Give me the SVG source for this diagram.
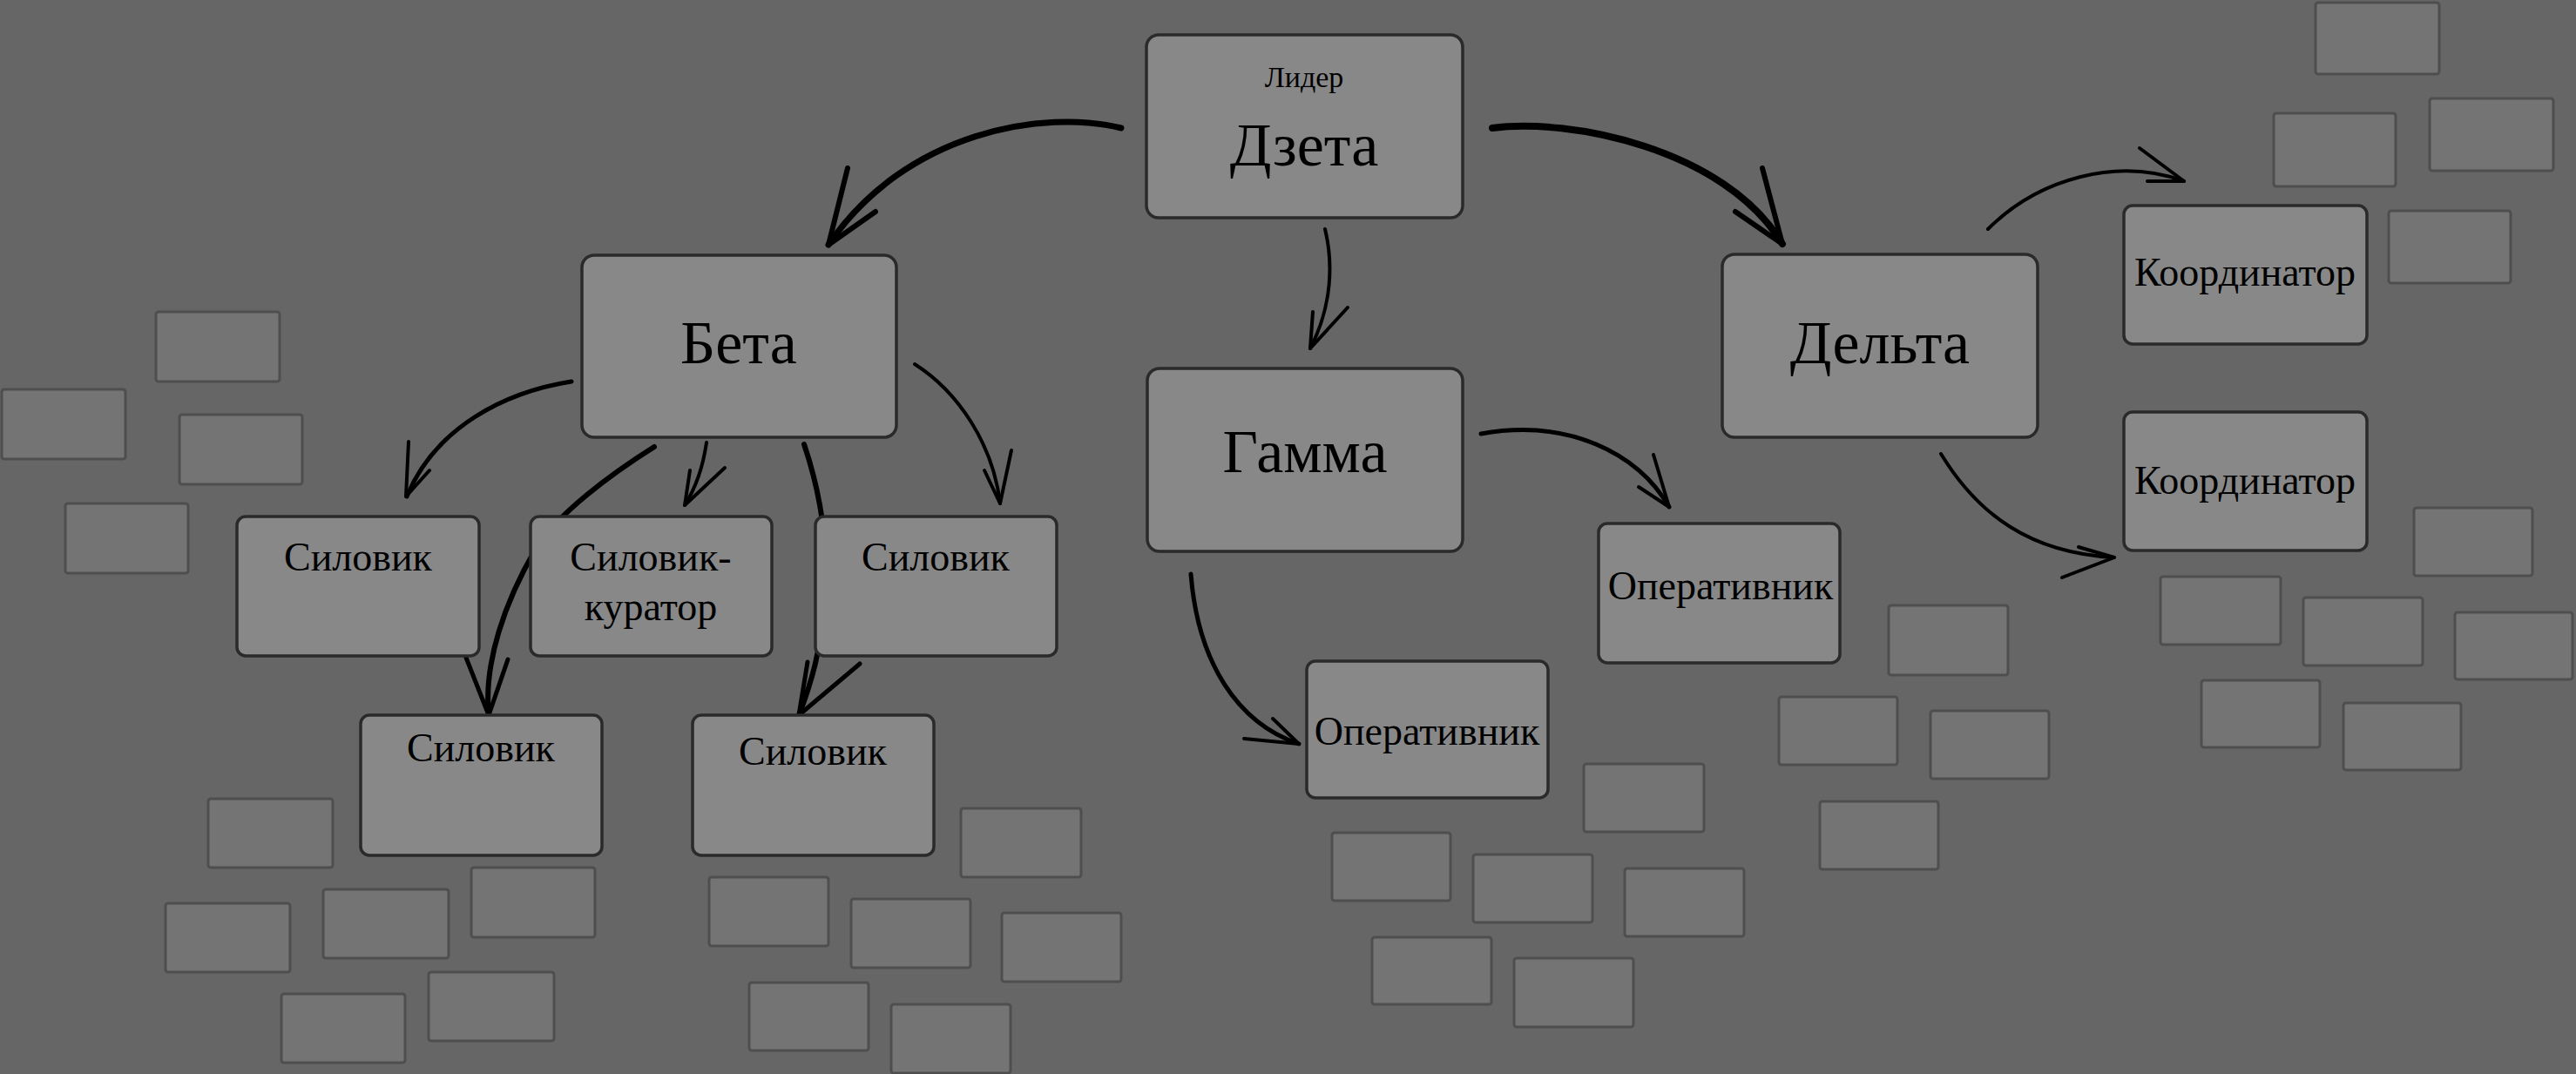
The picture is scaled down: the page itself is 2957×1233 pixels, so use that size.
<svg xmlns="http://www.w3.org/2000/svg" width="2957" height="1233" viewBox="0 0 2957 1233">
<style>
.deco{fill:#747474;stroke:#4e4e4e;stroke-width:3}
.node{fill:#888888;stroke:#2a2a2a;stroke-width:3.5}
.t{font-family:"Liberation Serif","Times New Roman",serif;fill:#000;text-anchor:middle}
.big{font-size:70px}
.mid{font-size:46px}
.sm{font-size:34px}
.c{fill:none;stroke:#000;stroke-linecap:round;stroke-linejoin:round}
</style>
<rect width="2957" height="1233" fill="#666666"/>
<g id="decor">
<rect class="deco" x="2658" y="3" width="142" height="82" rx="3"/>
<rect class="deco" x="2610" y="130" width="140" height="84" rx="3"/>
<rect class="deco" x="2789" y="113" width="142" height="83" rx="3"/>
<rect class="deco" x="2742" y="242" width="140" height="83" rx="3"/>
<rect class="deco" x="2771" y="583" width="136" height="78" rx="3"/>
<rect class="deco" x="2480" y="662" width="138" height="78" rx="3"/>
<rect class="deco" x="2644" y="686" width="137" height="78" rx="3"/>
<rect class="deco" x="2818" y="703" width="135" height="77" rx="3"/>
<rect class="deco" x="2527" y="781" width="136" height="77" rx="3"/>
<rect class="deco" x="2690" y="807" width="135" height="77" rx="3"/>
<rect class="deco" x="2168" y="695" width="137" height="80" rx="3"/>
<rect class="deco" x="2042" y="800" width="136" height="78" rx="3"/>
<rect class="deco" x="2216" y="816" width="136" height="78" rx="3"/>
<rect class="deco" x="2089" y="920" width="136" height="78" rx="3"/>
<rect class="deco" x="1818" y="877" width="138" height="78" rx="3"/>
<rect class="deco" x="1529" y="956" width="136" height="78" rx="3"/>
<rect class="deco" x="1691" y="981" width="137" height="78" rx="3"/>
<rect class="deco" x="1865" y="997" width="137" height="78" rx="3"/>
<rect class="deco" x="1575" y="1076" width="137" height="77" rx="3"/>
<rect class="deco" x="1738" y="1100" width="137" height="79" rx="3"/>
<rect class="deco" x="179" y="358" width="142" height="80" rx="3"/>
<rect class="deco" x="2" y="447" width="142" height="80" rx="3"/>
<rect class="deco" x="206" y="476" width="141" height="80" rx="3"/>
<rect class="deco" x="75" y="578" width="141" height="80" rx="3"/>
<rect class="deco" x="239" y="917" width="143" height="79" rx="3"/>
<rect class="deco" x="190" y="1037" width="143" height="79" rx="3"/>
<rect class="deco" x="371" y="1021" width="144" height="79" rx="3"/>
<rect class="deco" x="541" y="996" width="142" height="80" rx="3"/>
<rect class="deco" x="323" y="1141" width="142" height="79" rx="3"/>
<rect class="deco" x="492" y="1116" width="144" height="79" rx="3"/>
<rect class="deco" x="814" y="1007" width="137" height="79" rx="3"/>
<rect class="deco" x="977" y="1032" width="137" height="79" rx="3"/>
<rect class="deco" x="1103" y="928" width="138" height="79" rx="3"/>
<rect class="deco" x="1150" y="1048" width="137" height="79" rx="3"/>
<rect class="deco" x="860" y="1128" width="137" height="78" rx="3"/>
<rect class="deco" x="1023" y="1153" width="137" height="79" rx="3"/>
</g>
<g id="connectors">
<path class="c" stroke-width="7" d="M1287,147 C1200,125 1040,150 951,281"/>
<path class="c" stroke-width="6" d="M973,193 L951,281 L1005,243"/>
<path class="c" stroke-width="8" d="M1713,147 C1800,135 1980,170 2046,280"/>
<path class="c" stroke-width="6" d="M2023,193 L2046,280 L1992,243"/>
<path class="c" stroke-width="4" d="M1521,263 C1530,300 1530,350 1504,400"/>
<path class="c" stroke-width="4" d="M1507,358 L1504,400 L1547,353"/>
<path class="c" stroke-width="5" d="M656,438 C580,450 500,490 467,570"/>
<path class="c" stroke-width="4" d="M469,507 L466,570 L493,540"/>
<path class="c" stroke-width="4" d="M811,508 Q805,550 786,580"/>
<path class="c" stroke-width="4" d="M792,540 L786,580 L832,537"/>
<path class="c" stroke-width="4" d="M1050,418 C1100,450 1140,510 1148,578"/>
<path class="c" stroke-width="4" d="M1161,517 L1148,578 L1130,540"/>
<path class="c" stroke-width="6" d="M751,513 C700,545 640,590 615,630 C580,690 555,760 561,821"/>
<path class="c" stroke-width="5" d="M535,755 L561,821 L583,757"/>
<path class="c" stroke-width="6" d="M923,510 C950,590 965,700 917,821"/>
<path class="c" stroke-width="5" d="M927,760 L917,821 L987,762"/>
<path class="c" stroke-width="5" d="M1700,498 C1800,480 1880,520 1916,582"/>
<path class="c" stroke-width="4" d="M1898,522 L1916,582 L1881,559"/>
<path class="c" stroke-width="5" d="M1367,659 C1375,760 1420,830 1491,854"/>
<path class="c" stroke-width="4" d="M1461,825 L1491,854 L1428,848"/>
<path class="c" stroke-width="4" d="M2282,263 C2340,205 2430,180 2507,208"/>
<path class="c" stroke-width="4" d="M2456,170 L2507,208 L2465,208"/>
<path class="c" stroke-width="4" d="M2228,521 C2270,590 2330,635 2427,640"/>
<path class="c" stroke-width="4" d="M2386,628 L2427,640 L2367,663"/>
</g>
<g id="node-zeta">
<rect class="node" x="1316" y="40" width="363" height="210" rx="14"/>
<text class="t sm" x="1497" y="100">Лидер</text>
<text class="t big" x="1497" y="190">Дзета</text>
</g>
<g id="node-beta">
<rect class="node" x="668" y="293" width="361" height="209" rx="14"/>
<text class="t big" x="848" y="417">Бета</text>
</g>
<g id="node-gamma">
<rect class="node" x="1317" y="423" width="362" height="210" rx="14"/>
<text class="t big" x="1498" y="542">Гамма</text>
</g>
<g id="node-delta">
<rect class="node" x="1977" y="292" width="362" height="210" rx="14"/>
<text class="t big" x="2158" y="417">Дельта</text>
</g>
<g id="node-silovik-1">
<rect class="node" x="272" y="593" width="278" height="160" rx="10"/>
<text class="t mid" x="411" y="655">Силовик</text>
</g>
<g id="node-silovik-kurator">
<rect class="node" x="609" y="593" width="277" height="160" rx="10"/>
<text class="t mid" x="747" y="655">Силовик-</text>
<text class="t mid" x="747" y="712">куратор</text>
</g>
<g id="node-silovik-3">
<rect class="node" x="936" y="593" width="277" height="160" rx="10"/>
<text class="t mid" x="1074" y="655">Силовик</text>
</g>
<g id="node-silovik-a">
<rect class="node" x="414" y="821" width="277" height="161" rx="10"/>
<text class="t mid" x="552" y="874">Силовик</text>
</g>
<g id="node-silovik-b">
<rect class="node" x="795" y="821" width="277" height="161" rx="10"/>
<text class="t mid" x="933" y="878">Силовик</text>
</g>
<g id="node-operativnik-1">
<rect class="node" x="1835" y="601" width="277" height="160" rx="10"/>
<text class="t mid" x="1975" y="688">Оперативник</text>
</g>
<g id="node-operativnik-2">
<rect class="node" x="1500" y="759" width="277" height="157" rx="10"/>
<text class="t mid" x="1638" y="855">Оперативник</text>
</g>
<g id="node-koordinator-1">
<rect class="node" x="2438" y="236" width="279" height="159" rx="10"/>
<text class="t mid" x="2577" y="328">Координатор</text>
</g>
<g id="node-koordinator-2">
<rect class="node" x="2438" y="473" width="279" height="159" rx="10"/>
<text class="t mid" x="2577" y="567">Координатор</text>
</g>
</svg>
